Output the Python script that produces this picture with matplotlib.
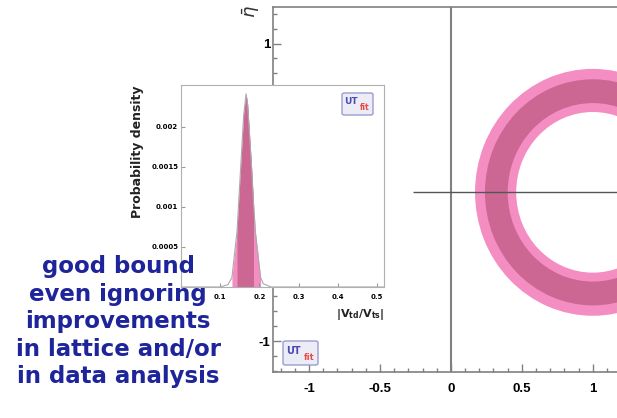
import matplotlib.pyplot as plt
from matplotlib.patches import Wedge, FancyBboxPatch

# main plane: |Vtd/Vts| constraint, ring around (1, 0)
ring_center = (1.0, 0.0)
ring_95 = [0.54, 0.83]
ring_68 = [0.60, 0.76]
x_ticks = [-1, -0.5, 0, 0.5, 1]
x_labels = ['-1', '-0.5', '0', '0.5', '1']
y_ticks = [-1, -0.5, 0, 0.5, 1]
y_labels = ['-1', '-0.5', '0', '0.5', '1']

# inset: p.d.f. of |Vtd/Vts|
vtd_vts = [0.0, 0.10, 0.12, 0.13, 0.143, 0.15, 0.16, 0.166, 0.17, 0.18, 0.185, 0.19, 0.203, 0.21, 0.23, 0.518]
prob = [0.0, 0.0, 0.00003, 0.00012, 0.00070, 0.00130, 0.00215, 0.00241, 0.00228, 0.00150, 0.00105, 0.00068,
        0.00012, 0.00004, 0.0, 0.0]
range_95 = [0.13, 0.203]
range_68 = [0.143, 0.185]
inset_xticks = [0.1, 0.2, 0.3, 0.4, 0.5]
inset_xlabels = ['0.1', '0.2', '0.3', '0.4', '0.5']
inset_yticks = [0.0005, 0.001, 0.0015, 0.002]
inset_ylabels = ['0.0005', '0.001', '0.0015', '0.002']

text_lines = ['good bound', 'even ignoring', 'improvements', 'in lattice and/or', 'in data analysis']

light = '#f48dc2'
dark = '#cc6693'
grey = '#808080'

W, H = 617, 418
fig = plt.figure(figsize=(W / 100, H / 100), dpi=100)


def px(x0, y0, x1, y1):
    return [x0 / W, 1 - y1 / H, (x1 - x0) / W, (y1 - y0) / H]


ax = fig.add_axes(px(273, 7, 620, 372))
ax.set_xlim(-1.253, 1.191)
ax.set_ylim(-1.208, 1.246)

ax.add_patch(Wedge(ring_center, ring_95[1], 0, 360, width=ring_95[1] - ring_95[0], color=light, lw=0))
ax.add_patch(Wedge(ring_center, ring_68[1], 0, 360, width=ring_68[1] - ring_68[0], color=dark, lw=0))
ax.axvline(0, color=grey, lw=1.5)
ax.hlines(0, -0.27, ax.get_xlim()[1], color='#555555', lw=1)

ax.set_xticks(x_ticks)
ax.set_xticklabels(x_labels)
ax.set_yticks(y_ticks)
ax.set_yticklabels(y_labels)
ax.set_xticks([t / 10 for t in range(-12, 12)], minor=True)
ax.set_yticks([t / 10 for t in range(-12, 13)], minor=True)
ax.tick_params(which='both', direction='in', color=grey, width=1)
ax.tick_params(which='major', length=6)
ax.tick_params(which='minor', length=3)
ax.tick_params(axis='x', pad=8)
ax.tick_params(axis='y', pad=2)
for lab in ax.get_xticklabels() + ax.get_yticklabels():
    lab.set_fontweight('bold')
    lab.set_fontsize(9.5)
    lab.set_family('Liberation Sans')
for s in ['left', 'bottom', 'top']:
    ax.spines[s].set_color(grey)
    ax.spines[s].set_linewidth(1.2)
ax.spines['right'].set_visible(False)

fig.text(251 / W, 1 - 12 / H, r'$\bar{\eta}$', rotation=90, fontsize=13, ha='center', va='center', color='#333333')

# inset
ai = fig.add_axes(px(181, 85, 384, 287))
ai.set_facecolor('white')
ai.plot(vtd_vts, prob, color='#aaaaaa', lw=0.8)
m95 = [range_95[0] <= v <= range_95[1] for v in vtd_vts]
m68 = [range_68[0] <= v <= range_68[1] for v in vtd_vts]
ai.fill_between(vtd_vts, prob, where=m95, color=light, lw=0)
ai.fill_between(vtd_vts, prob, where=m68, color=dark, lw=0)
ai.set_xlim(0, 0.518)
ai.set_ylim(0, 0.00252)
ai.set_xticks(inset_xticks)
ai.set_xticklabels(inset_xlabels)
ai.set_yticks(inset_yticks)
ai.set_yticklabels(inset_ylabels)
ai.tick_params(direction='in', length=3, color='#999999', labelsize=5)
ai.tick_params(axis='x', pad=5)
ai.tick_params(axis='y', pad=2)
for lab in ai.get_xticklabels() + ai.get_yticklabels():
    lab.set_fontweight('bold')
for s in ai.spines.values():
    s.set_color('#b0b0b0')
    s.set_linewidth(0.8)

fig.text(138 / W, 1 - 152 / H, 'Probability density', rotation=90, fontsize=9, fontweight='bold',
         ha='center', va='center', color='#222222')
fig.text(384 / W, 1 - 315 / H, r'$\mathbf{|V_{td}/V_{ts}|}$', fontsize=8, ha='right', va='center',
         color='#222222')


def utfit(x0, y0, x1, y1, size):
    box = FancyBboxPatch((x0 / W, 1 - y1 / H), (x1 - x0) / W, (y1 - y0) / H,
                         boxstyle='round,pad=0,rounding_size=0.004', transform=fig.transFigure,
                         fc='#ececf6', ec='#9c9cd0', lw=1, zorder=5)
    fig.add_artist(box)
    w = x1 - x0
    h = y1 - y0
    fig.text((x0 + 0.08 * w) / W, 1 - (y0 + 0.4 * h) / H, 'UT', color='#4a4ab0', fontsize=size,
             fontweight='bold', va='center', ha='left', zorder=6)
    fig.text((x1 - 0.1 * w) / W, 1 - (y0 + 0.68 * h) / H, 'fit', color='#e84848', fontsize=size * 0.85,
             fontweight='bold', va='center', ha='right', zorder=6)


utfit(342, 93, 373, 115, 6.5)
utfit(283, 341, 318, 365, 7)

baselines = [273, 300.5, 328, 355.5, 383]
for line, yb in zip(text_lines, baselines):
    fig.text(118 / W, 1 - yb / H, line, ha='center', va='baseline', fontsize=16.5, fontweight='bold',
             color='#1e249a', family='DejaVu Sans', zorder=10)

fig.savefig('out.png', dpi=100)
